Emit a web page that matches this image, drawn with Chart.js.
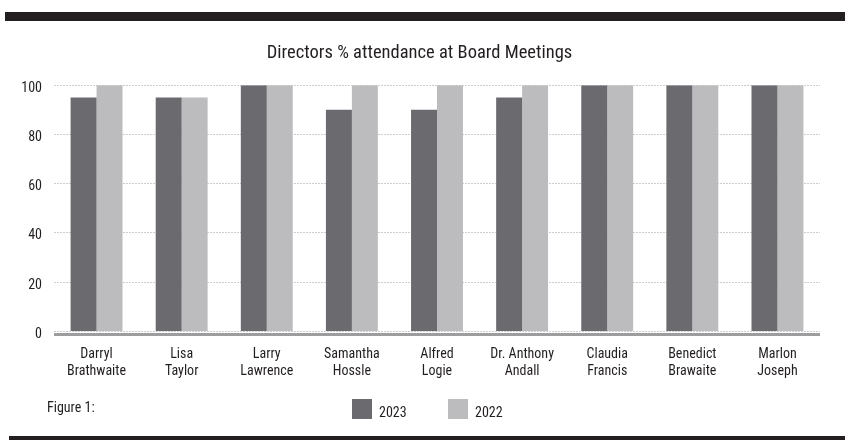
<!DOCTYPE html>
<html>
<head>
<meta charset="utf-8">
<script src="https://cdn.jsdelivr.net/npm/chart.js@4/dist/chart.umd.min.js"></script>
<style>
  body { margin: 0; background: #fff; }
  #wrap { position: relative; width: 845px; height: 440px; font-family: "Liberation Sans Narrow", "Roboto Condensed", Roboto, sans-serif; color: #231f20; }
  .bar { position: absolute; background: #231f20; }
  #fig { position: absolute; left: 47px; top: 399px; font-size: 14px; }
  #legend { position: absolute; left: 352px; top: 399px; display: flex; font-size: 14px; }
  #legend .item { display: flex; width: 96px; }
  #legend .box { width: 20px; height: 20px; }
  #legend .txt { margin-left: 7px; padding-top: 5px; }
</style>
</head>
<body>
<div id="wrap">
  <canvas id="attendanceChart" width="845" height="440"></canvas>
  <div class="bar" style="left:5px; top:12px; width:840px; height:9px;"></div>
  <div class="bar" style="left:9px; top:436px; width:836px; height:4px;"></div>
  <div id="fig">Figure 1:</div>
  <div id="legend"></div>
</div>
<script>
const directors = [
    ["Darryl", "Brathwaite"],
    ["Lisa", "Taylor"],
    ["Larry", "Lawrence"],
    ["Samantha", "Hossle"],
    ["Alfred", "Logie"],
    ["Dr. Anthony", "Andall"],
    ["Claudia", "Francis"],
    ["Benedict", "Brawaite"],
    ["Marlon", "Joseph"],
];
const attendance2023 = [95, 95, 100, 90, 90, 95, 100, 100, 100];
const attendance2022 = [100, 95, 100, 100, 100, 100, 100, 100, 100];
const yTicks = [0, 20, 40, 60, 80, 100];

const fontFamily = '"Liberation Sans Narrow", "Roboto Condensed", Roboto, sans-serif';
const textColor = "#231f20";

// thick grey baseline just under the zero line
const baseline = {
    id: "baseline",
    afterDatasetsDraw(chart) {
        const { ctx, chartArea } = chart;
        ctx.save();
        ctx.strokeStyle = "#9d9d9f";
        ctx.lineWidth = 3;
        ctx.beginPath();
        ctx.moveTo(chartArea.left, chartArea.bottom + 3);
        ctx.lineTo(chartArea.right, chartArea.bottom + 3);
        ctx.stroke();
        ctx.restore();
    },
};

var ctx = document.getElementById("attendanceChart").getContext("2d");
var chart = new Chart(ctx, {
    type: "bar",
    data: {
        labels: directors,
        datasets: [
            {
                label: "2023",
                data: attendance2023,
                backgroundColor: "#6b6b6f",
            },
            {
                label: "2022",
                data: attendance2022,
                backgroundColor: "#bcbcbf",
            },
        ],
    },
    options: {
        responsive: false,
        animation: false,
        datasets: { bar: { categoryPercentage: 0.61, barPercentage: 1 } },
        layout: { padding: { top: 42, right: 25, left: 19, bottom: 53 } },
        plugins: {
            title: {
                display: true,
                text: "Directors % attendance at Board Meetings",
                color: textColor,
                font: { family: fontFamily, size: 18.5, weight: "normal" },
                padding: { top: 0, bottom: 21 },
            },
            legend: { display: false },
            tooltip: { enabled: false },
        },
        scales: {
            x: {
                grid: { display: false },
                border: { display: false },
                ticks: {
                    color: textColor,
                    font: { family: fontFamily, size: 14, lineHeight: 1.2 },
                    padding: 7,
                    maxRotation: 0,
                    autoSkip: false,
                },
            },
            y: {
                min: 0,
                max: 100,
                afterFit(scale) { scale.width = 35; },
                afterBuildTicks(scale) { scale.ticks = yTicks.map((v) => ({ value: v })); },
                grid: { color: "#cdcdcd", drawTicks: false, lineWidth: 1 },
                border: { display: false, dash: [2, 1] },
                ticks: {
                    color: textColor,
                    font: { family: fontFamily, size: 14 },
                    padding: 12,
                    labelOffset: 3,
                },
            },
        },
    },
    plugins: [baseline],
});

// legend built from the chart's datasets
const legendEl = document.getElementById("legend");
chart.data.datasets.forEach((ds) => {
    const item = document.createElement("div");
    item.className = "item";
    item.innerHTML = `<span class="box" style="background:${ds.backgroundColor}"></span><span class="txt">${ds.label}</span>`;
    legendEl.appendChild(item);
});
</script>
</body>
</html>
